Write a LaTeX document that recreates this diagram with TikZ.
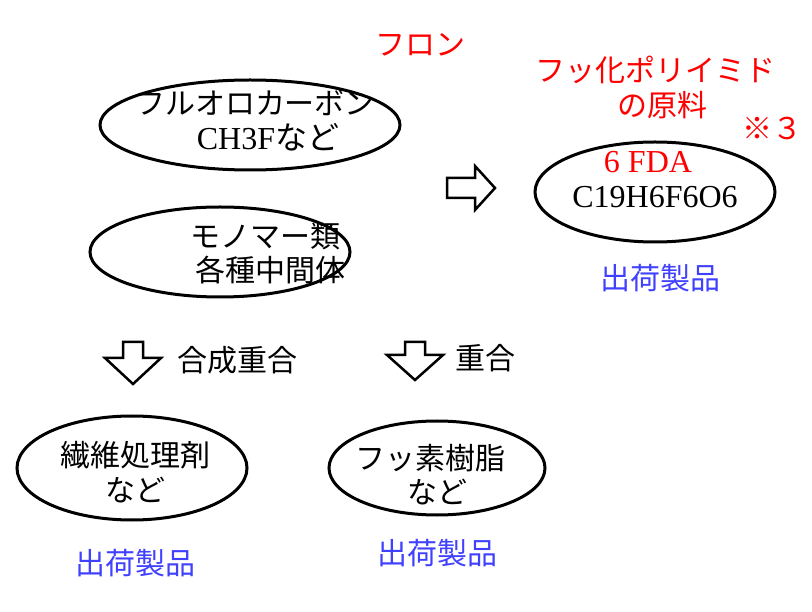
\documentclass[tikz,border=0pt]{standalone}
\usepackage{fontspec}
\setmainfont{Liberation Serif}
\newfontfamily\cjk{Noto Sans CJK JP}
\begin{document}
\begin{tikzpicture}[x=1pt,y=-1pt,
  t/.style={font=\cjk\fontsize{30}{34}\selectfont,align=center},
  lat/.style={font=\fontsize{32}{34}\selectfont},
  red/.style={text=red},
  ship/.style={t,text=blue!75!white},
  harrow/.style={draw,line width=2.5pt,fill=white,line join=miter}]
\useasboundingbox (0,0) rectangle (812,612);
\draw[line width=3pt] (250,125) ellipse (150 and 45);
\draw[line width=3pt] (220,252) ellipse (130 and 45);
\draw[line width=3pt] (655,192) ellipse (120 and 50);
\draw[line width=3pt] (132,468) ellipse (115 and 52);
\draw[line width=3pt] (437,468) ellipse (108 and 47);
\node[t] (a1) at (255,103) {フルオロカーボン};
\node[t] (a2) at (268,137) {\normalfont\fontsize{32}{34}\selectfont CH3F\cjk{}など};
\node[t] (b1) at (265,236) {モノマー類};
\node[t] (b2) at (270,270) {各種中間体};
\node[lat,red] (c1) at (648,162) {6 FDA};
\node[lat] (c2) at (655,197) {C19H6F6O6};
\node[t] (d1) at (135,455) {繊維処理剤};
\node[t] (d2) at (135,490) {など};
\node[t] (e1) at (430,458) {フッ素樹脂};
\node[t] (e2) at (437,492) {など};
\node[t,red] (f1) at (420,45) {フロン};
\node[t,red] (f2) at (655,70) {フッ化ポリイミド};
\node[t,red] (f3) at (662,105) {の原料};
\node[t,red] (f4) at (772,128) {※３};
\node[ship] (s1) at (660,278) {出荷製品};
\node[ship] (s2) at (135,563) {出荷製品};
\node[ship] (s3) at (437,553) {出荷製品};
\node[t] (l1) at (237,360) {合成重合};
\node[t] (l2) at (485,358) {重合};
\draw[harrow] (447,178)--(475,178)--(475,166)--(495,188)--(475,210)--(475,198)--(447,198)--cycle;
\draw[harrow] (123,342)--(143,342)--(143,358)--(161,358)--(133,384)--(105,358)--(123,358)--cycle;
\draw[harrow] (405,342)--(425,342)--(425,355)--(443,355)--(415,380)--(387,355)--(405,355)--cycle;
\end{tikzpicture}
\end{document}
